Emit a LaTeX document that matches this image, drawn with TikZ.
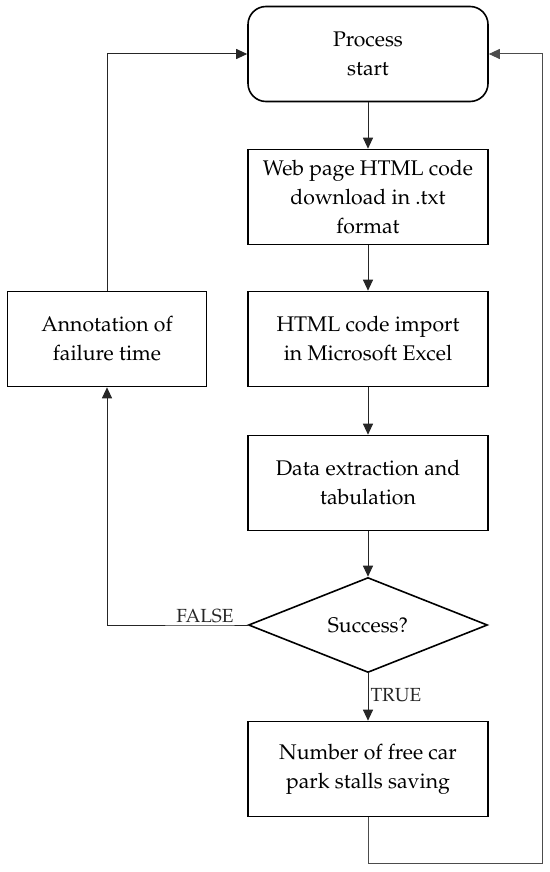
\documentclass[tikz,border=0pt]{standalone}
\usepackage[T1]{fontenc}
\usepackage{mathpazo}
\usetikzlibrary{positioning,shapes.geometric,arrows.meta}

\begin{document}
\begin{tikzpicture}[x=0.5pt,y=-0.5pt,font=\fontsize{10.6pt}{14.5pt}\selectfont,
        box/.style={rectangle,draw,line width=0.8pt,minimum width=120pt,minimum height=47.5pt,align=center,inner sep=2pt},
        startbox/.style={box,rounded corners=9pt},
        decision/.style={diamond,draw,line width=0.8pt,aspect=2.5,minimum width=119.5pt,minimum height=47.5pt,inner sep=0pt},
        arr/.style={-{Triangle[length=5.5pt,width=5pt]},line width=0.5pt,color=black!85},
        ln/.style={line width=0.5pt,color=black!70},
        lbl/.style={font=\fontsize{9.5pt}{11pt}\selectfont,inner sep=1pt}]
  \useasboundingbox (0,0) rectangle (550,872);
  \node[startbox] (start) at (368,54) {Process\\start};
  \node[box] (web) at (368,197) {Web page HTML code\\download in .txt\\format};
  \node[box] (html) at (368,339) {HTML code import\\in Microsoft Excel};
  \node[box] (data) at (368,483) {Data extraction and\\tabulation};
  \node[decision] (dec) at (368,625) {Success?};
  \node[box] (num) at (368,769) {Number of free car\\park stalls saving};
  \node[box,minimum width=99.5pt] (ann) at (107,339) {Annotation of\\failure time};
  \coordinate (loopa) at (368,863); \coordinate (loopb) at (542,863);
  % main flow
  \draw[arr] (start) -- (web); \draw[arr] (web) -- (html); \draw[arr] (html) -- (data); \draw[arr] (data) -- (dec);
  \draw[arr] (dec) -- node[lbl,anchor=west,pos=0.45] {TRUE} (num);
  % failure branch
  \draw[arr] (dec.west) -- node[lbl,anchor=south east,pos=0.45] {FALSE} ++(-26,0) -| (ann.south);
  \draw[arr] (ann.north) |- (start.west);
  % back to start
  \draw[arr,ln] (num.south) -- (loopa) -- (loopb) |- (start.east);
\end{tikzpicture}
\end{document}
